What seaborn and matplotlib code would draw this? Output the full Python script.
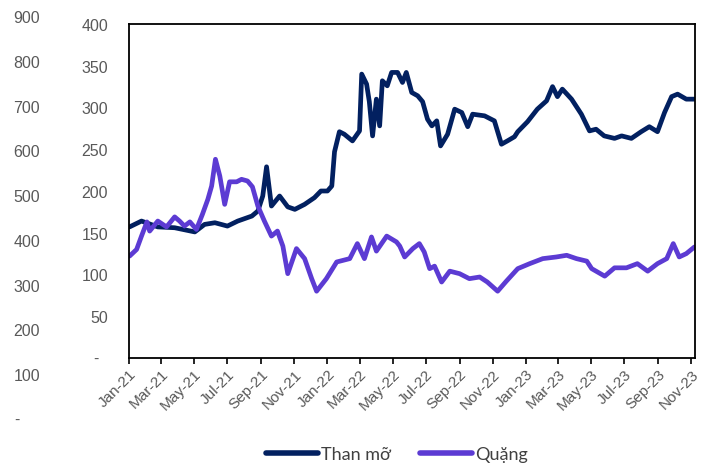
import matplotlib
matplotlib.use("Agg")
import matplotlib.pyplot as plt
import matplotlib.dates as mdates
import matplotlib.transforms as mtransforms
import numpy as np
import pandas as pd
import seaborn as sns

# Coking coal ("Than mỡ") price series
coal_dates = [
    "2021-01-02", "2021-01-24", "2021-02-23", "2021-03-26", "2021-05-02", "2021-05-20",
    "2021-06-08", "2021-07-01", "2021-07-20", "2021-08-15", "2021-08-26", "2021-09-04",
    "2021-09-11", "2021-09-20", "2021-10-05", "2021-10-20", "2021-11-02", "2021-11-20",
    "2021-12-08", "2021-12-20", "2022-01-01", "2022-01-09", "2022-01-14", "2022-01-23",
    "2022-02-01", "2022-02-16", "2022-03-01", "2022-03-05", "2022-03-14", "2022-03-19",
    "2022-03-25", "2022-04-01", "2022-04-07", "2022-04-12", "2022-04-21", "2022-04-29",
    "2022-05-10", "2022-05-19", "2022-05-26", "2022-06-05", "2022-06-16", "2022-06-25",
    "2022-07-04", "2022-07-12", "2022-07-21", "2022-07-28", "2022-08-10", "2022-08-23",
    "2022-09-05", "2022-09-16", "2022-09-25", "2022-10-17", "2022-11-04", "2022-11-17",
    "2022-11-28", "2022-12-11", "2022-12-17", "2023-01-04", "2023-01-22", "2023-02-08",
    "2023-02-19", "2023-02-28", "2023-03-09", "2023-03-26", "2023-04-13", "2023-04-28",
    "2023-05-10", "2023-05-25", "2023-06-13", "2023-06-26", "2023-07-14", "2023-08-01",
    "2023-08-16", "2023-08-31", "2023-09-13", "2023-09-26", "2023-10-07", "2023-10-23",
    "2023-11-07",
]
coal_values = [
    157, 164, 157, 156, 151, 160,
    162, 158, 164, 170, 176, 194,
    229, 182, 194, 181, 178, 184,
    192, 200, 200, 206, 247, 271,
    268, 260, 272, 340, 328, 307,
    266, 310, 278, 332, 326, 342,
    342, 330, 342, 318, 314, 307,
    286, 278, 284, 254, 268, 298,
    294, 277, 292, 290, 284, 256,
    260, 265, 271, 283, 298, 308,
    325, 313, 322, 310, 292, 272,
    274, 266, 263, 266, 263, 271,
    277, 271, 294, 313, 316, 310,
    310,
]

# Iron ore ("Quặng") price series
ore_dates = [
    "2021-01-02", "2021-01-15", "2021-01-24", "2021-02-03", "2021-02-08", "2021-02-23",
    "2021-03-11", "2021-03-26", "2021-04-04", "2021-04-13", "2021-04-23", "2021-05-05",
    "2021-05-16", "2021-05-26", "2021-06-02", "2021-06-09", "2021-06-17", "2021-06-26",
    "2021-07-05", "2021-07-18", "2021-07-27", "2021-08-07", "2021-08-16", "2021-08-26",
    "2021-09-07", "2021-09-20", "2021-10-01", "2021-10-11", "2021-10-20", "2021-11-05",
    "2021-11-20", "2021-12-03", "2021-12-12", "2021-12-30", "2022-01-18", "2022-02-11",
    "2022-02-25", "2022-03-10", "2022-03-23", "2022-04-01", "2022-04-20", "2022-05-08",
    "2022-05-14", "2022-05-23", "2022-06-07", "2022-06-19", "2022-06-28", "2022-07-08",
    "2022-07-17", "2022-07-30", "2022-08-14", "2022-09-01", "2022-09-19", "2022-10-08",
    "2022-10-22", "2022-11-10", "2022-11-26", "2022-12-17", "2023-01-08", "2023-02-01",
    "2023-02-26", "2023-03-17", "2023-04-04", "2023-04-23", "2023-05-02", "2023-05-26",
    "2023-06-13", "2023-07-05", "2023-07-25", "2023-08-13", "2023-08-31", "2023-09-17",
    "2023-09-29", "2023-10-10", "2023-10-23", "2023-11-07",
]
ore_values = [
    122, 130, 146, 163, 152, 164,
    157, 169, 164, 158, 163, 154,
    172, 190, 206, 238, 218, 184,
    211, 211, 214, 212, 205, 182,
    164, 146, 152, 134, 101, 131,
    119, 95, 80, 95, 115, 119,
    137, 119, 145, 128, 146, 139,
    134, 121, 131, 137, 127, 107,
    110, 91, 104, 101, 95, 97,
    91, 80, 92, 107, 113, 119,
    121, 123, 119, 116, 107, 98,
    108, 108, 113, 104, 113, 119,
    137, 121, 125, 133,
]

series_names = ["Than mỡ", "Quặng"]
series_colors = ["#022060", "#5C3BD3"]

# Left axis labels (inner scale used by both lines)
inner_ticks = [0, 50, 100, 150, 200, 250, 300, 350, 400]
# Outer left scale printed beside it
outer_ticks = [0, 100, 200, 300, 400, 500, 600, 700, 800, 900]

x_start, x_end = "2021-01-01", "2023-11-08"

df = pd.concat([
    pd.DataFrame({"date": pd.to_datetime(coal_dates), "value": coal_values, "series": series_names[0]}),
    pd.DataFrame({"date": pd.to_datetime(ore_dates), "value": ore_values, "series": series_names[1]}),
], ignore_index=True)

sns.set_theme(style="white")
plt.rcParams["font.family"] = ["Liberation Sans", "DejaVu Sans"]

W, H = 702, 464
fig = plt.figure(figsize=(W / 100, H / 100), dpi=100)

def px_box(x0, y0, x1, y1):
    return [x0 / W, 1 - y1 / H, (x1 - x0) / W, (y1 - y0) / H]

ax = fig.add_axes(px_box(129, 25, 695, 359))

sns.lineplot(data=df, x="date", y="value", hue="series", hue_order=series_names,
             palette=series_colors, linewidth=3.4, ax=ax, legend=False,
             solid_capstyle="round", solid_joinstyle="round")

ax.set_xlim(pd.Timestamp(x_start), pd.Timestamp(x_end))
ax.set_ylim(inner_ticks[0], inner_ticks[-1])
ax.set_xlabel("")
ax.set_ylabel("")

gray = "#595959"
for s in ax.spines.values():
    s.set_color("black")
    s.set_linewidth(1.3)
    s.set_visible(True)

tick_font = {"family": ["Liberation Sans", "DejaVu Sans"]}

ax.xaxis.set_major_locator(mdates.MonthLocator(bymonth=[1, 3, 5, 7, 9, 11]))
ax.xaxis.set_major_formatter(mdates.DateFormatter("%b-%y"))
ax.tick_params(axis="x", which="major", bottom=True, direction="out", length=4,
               width=1.2, color="black", labelsize=11, labelcolor=gray, pad=2)
for lab in ax.get_xticklabels():
    lab.set_rotation(45)
    lab.set_ha("right")
    lab.set_rotation_mode("anchor")
    lab.set_fontfamily(tick_font["family"])

ax.set_yticks(inner_ticks)
ax.set_yticklabels(["" if v == 0 else str(v) for v in inner_ticks], fontdict=tick_font)
ax.tick_params(axis="y", left=False, length=0, labelsize=11.5, labelcolor=gray, pad=15)
ax.text(-0.059, 0, "-", transform=mtransforms.blended_transform_factory(ax.transAxes, ax.transData),
        ha="center", va="center", fontsize=11.5, color=gray)

# Outer scale: label-only axis to the left
ax_out = fig.add_axes(px_box(43, 17, 44, 420))
ax_out.set_ylim(outer_ticks[0], outer_ticks[-1])
ax_out.set_xticks([])
ax_out.set_yticks(outer_ticks)
ax_out.set_yticklabels(["" if v == 0 else str(v) for v in outer_ticks], fontdict=tick_font)
ax_out.tick_params(axis="y", left=False, length=0, labelsize=11.5, labelcolor=gray, pad=2)
for s in ax_out.spines.values():
    s.set_visible(False)
ax_out.patch.set_alpha(0)
ax_out.text(-26.0, 0, "-", transform=mtransforms.blended_transform_factory(ax_out.transAxes, ax_out.transData),
            ha="center", va="center", fontsize=11.5, color=gray)

# Legend under the plot
handles = [plt.Line2D([], [], color=c, linewidth=4, solid_capstyle="round") for c in series_colors]
leg = fig.legend(handles, series_names, loc="center", bbox_to_anchor=(397 / W, 1 - 455 / H),
                 ncol=2, frameon=False, handlelength=2.9, handletextpad=0.15,
                 columnspacing=1.6, prop={"family": ["Lato", "Open Sans", "DejaVu Sans"], "size": 13})
for t in leg.get_texts():
    t.set_color("#404040")

fig.savefig("out.png", dpi=100)
